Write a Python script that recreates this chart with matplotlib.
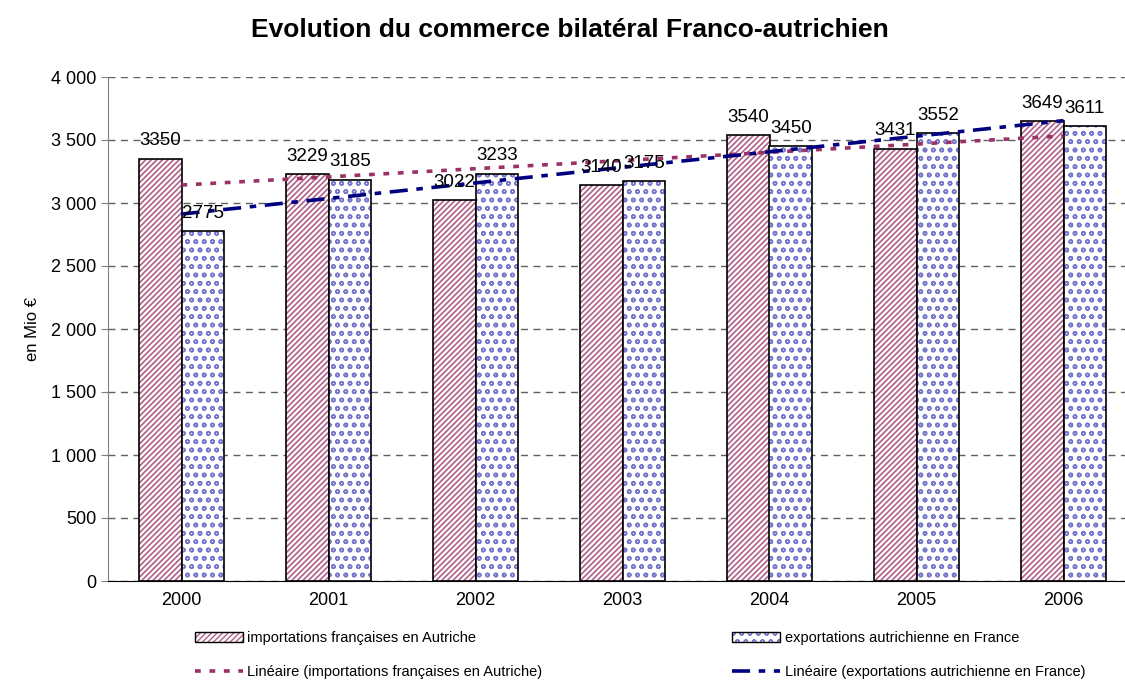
import matplotlib
matplotlib.use('Agg')
import matplotlib.pyplot as plt
import matplotlib.colors as mcolors
import numpy as np
from matplotlib.patches import Patch
from matplotlib.lines import Line2D

plt.rcParams['font.family'] = ['Liberation Sans', 'DejaVu Sans']

annees = ['2000', '2001', '2002', '2003', '2004', '2005', '2006']
importations = [3350, 3229, 3022, 3140, 3540, 3431, 3649]
exportations = [2775, 3185, 3233, 3175, 3450, 3552, 3611]
lbl_imp = 'importations françaises en Autriche'
lbl_exp = 'exportations autrichienne en France'

rose = '#b06088'
bleu = '#7878cc'
rose_trait = '#993366'
marine = '#000080'


def hachure(p, couleur, lw):
    # couleur et épaisseur du motif
    if hasattr(p, 'set_hatchcolor'):
        p.set_hatchcolor(couleur)
    else:
        p._hatch_color = mcolors.to_rgba(couleur)
    p._hatch_linewidth = lw


fig = plt.figure(figsize=(11.25, 6.83), dpi=100)
ax = fig.add_axes([108/1125, 1 - 581/683, (1125 - 108)/1125, (581 - 77)/683])

x = np.arange(len(annees))
w = 0.29

b1 = ax.bar(x - w/2, importations, w, facecolor='white', edgecolor='black',
            hatch='//////', linewidth=1.2, zorder=3)
b2 = ax.bar(x + w/2, exportations, w, facecolor='white', edgecolor='black',
            hatch='oo', linewidth=1.2, zorder=3)
for p in b1:
    hachure(p, rose, 1.2)
for p in b2:
    hachure(p, bleu, 1.1)

for p, v in zip(b1, importations):
    ax.text(p.get_x() + p.get_width()/2, v + 75, str(v), ha='center', va='bottom', fontsize=13.5, zorder=5)
for p, v in zip(b2, exportations):
    ax.text(p.get_x() + p.get_width()/2, v + 75, str(v), ha='center', va='bottom', fontsize=13.5, zorder=5)

# courbes de tendance linéaires
style_imp = (0, (1.6, 2.4))
style_exp = (0, (5.0, 2.4, 1.8, 2.4))
c1 = np.polyfit(x, importations, 1)
c2 = np.polyfit(x, exportations, 1)
ax.plot(x, np.polyval(c1, x), color=rose_trait, linewidth=2.6, linestyle=style_imp, zorder=4)
ax.plot(x, np.polyval(c2, x), color=marine, linewidth=2.6, linestyle=style_exp, zorder=4)

ax.set_xlim(-0.5, (1125 - 181.5) / 147)
ax.set_ylim(0, 4000)
ax.set_yticks(range(0, 4001, 500))
ax.set_yticklabels([f'{v:,}'.replace(',', ' ') for v in range(0, 4001, 500)], fontsize=13)
ax.set_xticks(x)
ax.set_xticklabels(annees, fontsize=13)
ax.tick_params(axis='x', length=0, pad=8)
ax.tick_params(axis='y', length=5, color='#808080', direction='out')
ax.yaxis.grid(True, linestyle=(0, (5, 4)), color='#606060', linewidth=1, zorder=0)
for s in ['top', 'right']:
    ax.spines[s].set_visible(False)
ax.spines['left'].set_color('#808080')
ax.spines['bottom'].set_color('black')
ax.set_ylabel('en Mio €', fontsize=12, labelpad=8)

fig.suptitle('Evolution du commerce bilatéral Franco-autrichien', fontsize=19,
             fontweight='bold', y=1 - 30/683, x=570/1125, va='center')

h1 = Patch(facecolor='white', edgecolor='black', hatch='//////', label=lbl_imp)
h2 = Patch(facecolor='white', edgecolor='black', hatch='oo', label=lbl_exp)
hachure(h1, rose, 1.2)
hachure(h2, bleu, 1.1)
l1 = Line2D([], [], color=rose_trait, linewidth=2.6, linestyle=style_imp,
            label='Linéaire (importations françaises en Autriche)')
l2 = Line2D([], [], color=marine, linewidth=2.6, linestyle=style_exp,
            label='Linéaire (exportations autrichienne en France)')

fig.legend(handles=[h1, l1, h2, l2], ncol=2, loc='center', bbox_to_anchor=(640/1125, 1 - 655/683),
           frameon=False, fontsize=10.5, handlelength=3.3, handletextpad=0.3, columnspacing=13,
           labelspacing=1.4)

fig.savefig('out.png', dpi=100)
